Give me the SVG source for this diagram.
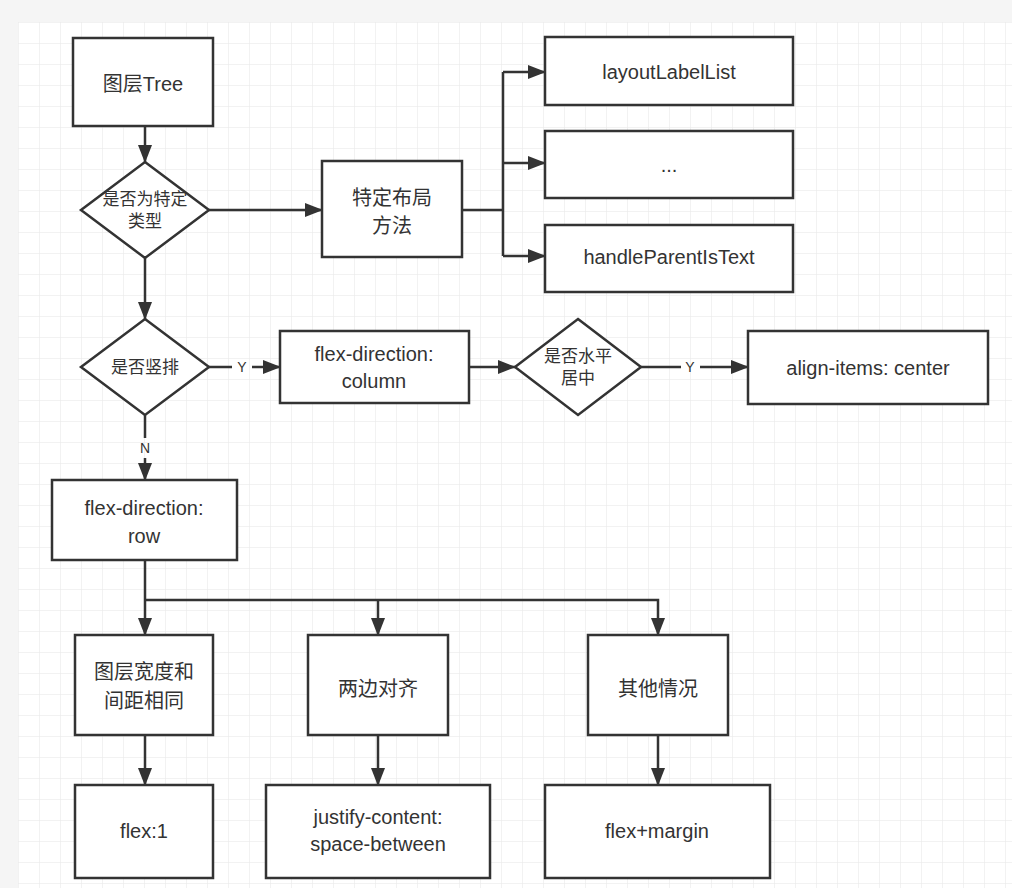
<svg xmlns="http://www.w3.org/2000/svg" width="1012" height="888" viewBox="0 0 1012 888">
<defs>
<pattern id="g" x="18" y="22" width="21" height="21" patternUnits="userSpaceOnUse"><path d="M0 0H21M0 0V21" fill="none" stroke="#e6e6e6" stroke-width="1"/></pattern>
<marker id="a" markerWidth="10" markerHeight="10" refX="9" refY="5" orient="auto" markerUnits="userSpaceOnUse" viewBox="0 0 10 10"><path d="M0 0L10 5L0 10z" fill="#333"/></marker>
<marker id="b" markerWidth="18" markerHeight="14" refX="17" refY="7" orient="auto" markerUnits="userSpaceOnUse" viewBox="0 0 18 14"><path d="M0 0L18 7L0 14z" fill="#333"/></marker>
</defs>
<style>
.n rect,.n path{fill:#fff;stroke:#333;stroke-width:2.5}
text{font-family:"Liberation Sans","Noto Sans CJK SC",sans-serif;font-size:20px;fill:#333;text-anchor:middle;dominant-baseline:central}
.s{font-size:17px}
.l{font-size:14px}
#c path{fill:none;stroke:#333;stroke-width:2.5}
</style>
<rect width="1012" height="888" fill="#f5f5f5"/>
<rect x="18" y="22" width="994" height="866" fill="#fff"/>
<rect x="18" y="22" width="994" height="866" fill="url(#g)"/>
<g id="c">
<path d="M145 126V162" marker-end="url(#b)"/>
<path d="M209 210H322" marker-end="url(#b)"/>
<path d="M462 210H503M503 72V256M503 72H545" marker-end="url(#b)"/>
<path d="M503 163H545" marker-end="url(#b)"/>
<path d="M503 256H545" marker-end="url(#b)"/>
<path d="M145 258V319" marker-end="url(#b)"/>
<path d="M209 367H232M252 367H280" marker-end="url(#b)"/>
<path d="M469 367H515" marker-end="url(#b)"/>
<path d="M641 367H681M700 367H748" marker-end="url(#b)"/>
<path d="M145 415V438M145 458V480" marker-end="url(#b)"/>
<path d="M145 560V635" marker-end="url(#b)"/>
<path d="M145 600H658V635" marker-end="url(#b)"/>
<path d="M378 600V635" marker-end="url(#b)"/>
<path d="M145 735V785" marker-end="url(#b)"/>
<path d="M378 735V785" marker-end="url(#b)"/>
<path d="M658 735V785" marker-end="url(#b)"/>
<text class="l" x="242" y="367">Y</text>
<text class="l" x="690" y="367">Y</text>
<text class="l" x="145" y="448">N</text>
</g>
<g id="n1" class="n"><rect x="73" y="38" width="140" height="88"/><text x="143" y="84">图层Tree</text></g>
<g id="n2" class="n"><path d="M145 162L209 210L145 258L81 210Z"/><text class="s" x="145" y="199">是否为特定</text><text class="s" x="145" y="221">类型</text></g>
<g id="n3" class="n"><rect x="322" y="161" width="140" height="96"/><text x="392" y="198">特定布局</text><text x="392" y="226">方法</text></g>
<g id="n4" class="n"><rect x="545" y="37" width="248" height="68"/><text x="669" y="72">layoutLabelList</text></g>
<g id="n5" class="n"><rect x="545" y="131" width="248" height="67"/><text x="669" y="165">...</text></g>
<g id="n6" class="n"><rect x="545" y="225" width="248" height="67"/><text x="669" y="257">handleParentIsText</text></g>
<g id="n7" class="n"><path d="M145 319L209 367L145 415L81 367Z"/><text class="s" x="145" y="367">是否竖排</text></g>
<g id="n8" class="n"><rect x="280" y="331" width="189" height="72"/><text x="374" y="354">flex-direction:</text><text x="374" y="381">column</text></g>
<g id="n9" class="n"><path d="M578 319L641 367L578 415L515 367Z"/><text class="s" x="578" y="356">是否水平</text><text class="s" x="578" y="378">居中</text></g>
<g id="n10" class="n"><rect x="748" y="331" width="240" height="73"/><text x="868" y="368">align-items: center</text></g>
<g id="n11" class="n"><rect x="52" y="480" width="185" height="80"/><text x="144" y="508">flex-direction:</text><text x="144" y="536">row</text></g>
<g id="n12" class="n"><rect x="75" y="635" width="138" height="100"/><text x="144" y="672">图层宽度和</text><text x="144" y="701">间距相同</text></g>
<g id="n13" class="n"><rect x="308" y="635" width="140" height="100"/><text x="378" y="689">两边对齐</text></g>
<g id="n14" class="n"><rect x="588" y="635" width="140" height="100"/><text x="658" y="689">其他情况</text></g>
<g id="n15" class="n"><rect x="75" y="785" width="138" height="93"/><text x="144" y="831">flex:1</text></g>
<g id="n16" class="n"><rect x="266" y="785" width="224" height="93"/><text x="378" y="817">justify-content:</text><text x="378" y="844">space-between</text></g>
<g id="n17" class="n"><rect x="545" y="785" width="225" height="93"/><text x="657" y="831">flex+margin</text></g>
</svg>
